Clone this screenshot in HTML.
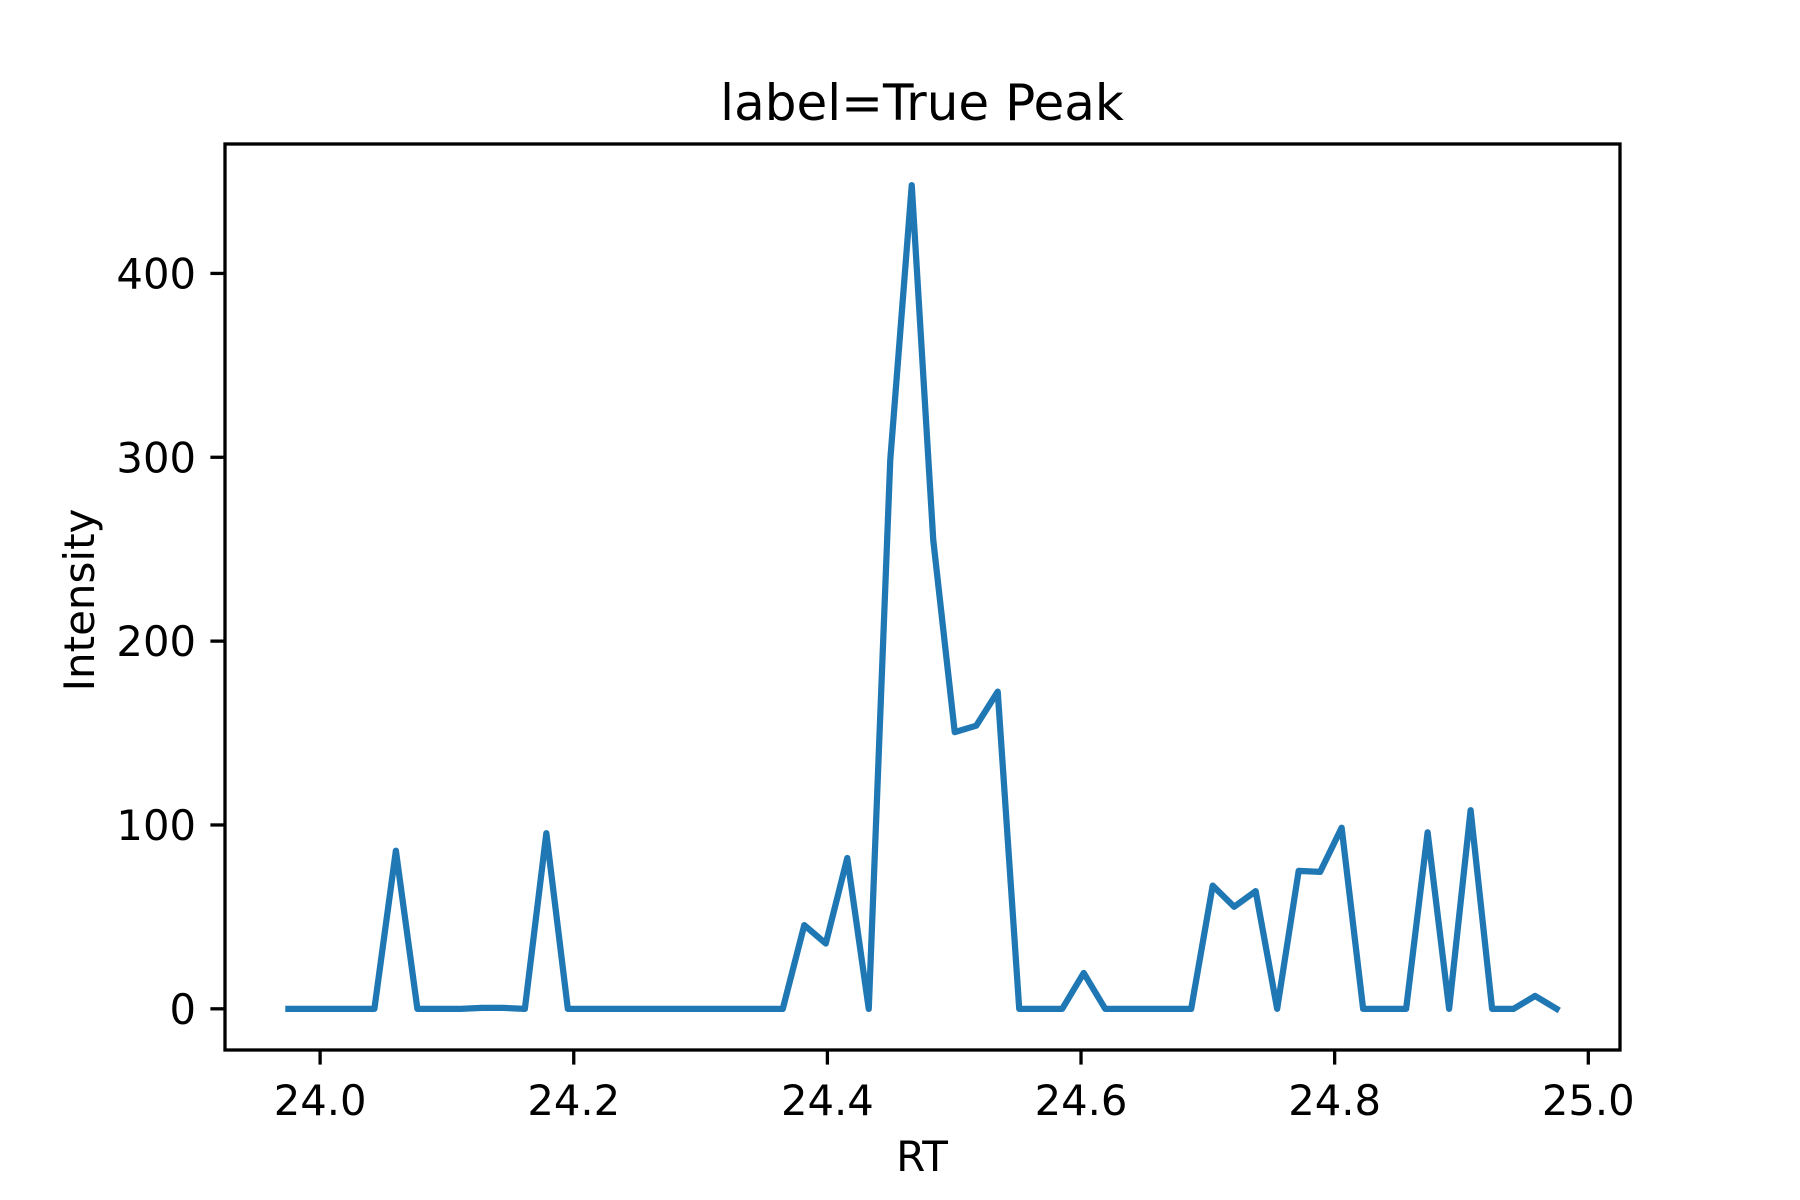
<!DOCTYPE html>
<html><head><meta charset="utf-8"><style>
html,body{margin:0;padding:0;background:#fff;}
svg{display:block;font-family:"DejaVu Sans","Liberation Sans",sans-serif;}
</style></head><body>
<svg id="chart" width="1800" height="1200" viewBox="0 0 1800 1200">
<rect x="0" y="0" width="1800" height="1200" fill="#fff"/>
<text x="922" y="120" font-size="50" text-anchor="middle" fill="#000">label=True Peak</text>
<g id="plot"></g>
<text x="922" y="1171" font-size="42" text-anchor="middle" fill="#000">RT</text>
<text transform="translate(94,600) rotate(-90)" font-size="42" text-anchor="middle" fill="#000">Intensity</text>
</svg>
<script>
const rtValues = [];
for (let i = 0; i < 60; i++) rtValues.push(23.975 + i / 59);
const intensityValues = [0,0,0,0,0,86,0,0,0,0.5,0.5,0,95.5,0,0,0,0,0,0,0,0,0,0,0,45.5,35.5,82,0,298.5,448,255,150.5,154,172.5,0,0,0,19.5,0,0,0,0,0,67,55.5,64,0,75,74.5,98.5,0,0,0,96,0,108,0,0,7,0];
const xTicks = [24.0,24.2,24.4,24.6,24.8,25.0];
const xTickLabels = ["24.0","24.2","24.4","24.6","24.8","25.0"];
const yTicks = [0,100,200,300,400];
const yTickLabels = ["0","100","200","300","400"];

const L=225,R=1620,T=144,B=1050;
const xmin0=Math.min(...rtValues), xmax0=Math.max(...rtValues);
const ymin0=Math.min(...intensityValues), ymax0=Math.max(...intensityValues);
const xm=(xmax0-xmin0)*0.05, ym=(ymax0-ymin0)*0.05;
const xlo=xmin0-xm, xhi=xmax0+xm, ylo=ymin0-ym, yhi=ymax0+ym;
function xs(v){return L+(v-xlo)/(xhi-xlo)*(R-L);}
function ys(v){return B-(v-ylo)/(yhi-ylo)*(B-T);}
const NS="http://www.w3.org/2000/svg";
const g=document.getElementById('plot');
function mk(tag,attrs){const e=document.createElementNS(NS,tag);for(const k in attrs)e.setAttribute(k,attrs[k]);return e;}

let d='';
rtValues.forEach((x,i)=>{d+=(i?'L':'M')+xs(x).toFixed(2)+' '+ys(intensityValues[i]).toFixed(2);});
const line=mk('path',{d:d,fill:'none',stroke:'#1f77b4','stroke-width':6.25,'stroke-linejoin':'round','stroke-linecap':'square'});


g.appendChild(line);

xTicks.forEach((t,i)=>{
  const x=xs(t);
  const tk=mk('line',{x1:x,x2:x,y1:B,y2:B+14.6,stroke:'#000','stroke-width':3.3});
  
  
  g.appendChild(tk);
  const tx=mk('text',{x:x,y:1115,'font-size':41.7,'text-anchor':'middle',fill:'#000'});
  tx.textContent=xTickLabels[i];
  
  
  g.appendChild(tx);
});
yTicks.forEach((t,i)=>{
  const y=ys(t);
  const tk=mk('line',{x1:L-14.6,x2:L,y1:y,y2:y,stroke:'#000','stroke-width':3.3});
  
  
  g.appendChild(tk);
  const tx=mk('text',{x:196,y:y+15,'font-size':41.7,'text-anchor':'end',fill:'#000'});
  tx.textContent=yTickLabels[i];
  
  
  g.appendChild(tx);
});
const frame=mk('rect',{x:L,y:T,width:R-L,height:B-T,fill:'none',stroke:'#000','stroke-width':3.3});


g.appendChild(frame);
</script>
</body></html>
